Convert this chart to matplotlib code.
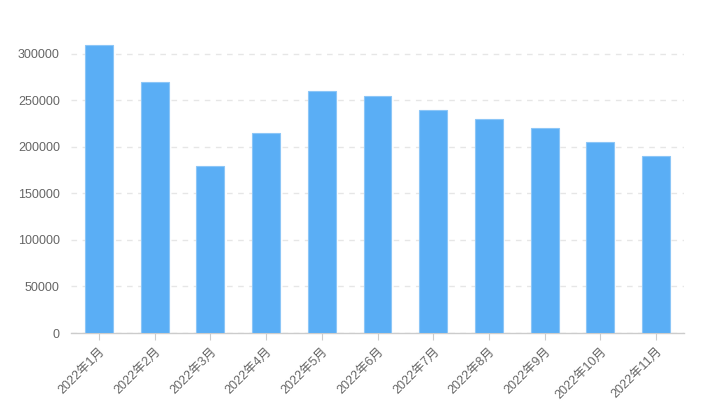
import numpy as np
import matplotlib.pyplot as plt

plt.rcParams['font.family'] = ['Liberation Sans', 'Noto Sans CJK SC', 'DejaVu Sans']

months = ["2022年1月", "2022年2月", "2022年3月", "2022年4月", "2022年5月", "2022年6月",
          "2022年7月", "2022年8月", "2022年9月", "2022年10月", "2022年11月"]
values = [310000, 270000, 180000, 215000, 260000, 255000,
          240000, 230000, 220000, 205000, 190000]
yticks = [0, 50000, 100000, 150000, 200000, 250000, 300000]

fig = plt.figure(figsize=(7.02, 4.15), dpi=100)
ax = fig.add_axes([71 / 702, 82 / 415, 613 / 702, 307 / 415])

x = np.arange(len(months))
ax.bar(x, values, width=0.5, color="#5aaef5", edgecolor="#8cc6f7", linewidth=0.8, zorder=3)

ax.set_xlim(-0.5, len(months) - 0.5)
ax.set_ylim(0, 330000)
ax.set_yticks(yticks)
ax.set_yticklabels([str(v) for v in yticks])
ax.set_xticks(x)
ax.set_xticklabels(months, rotation=45, ha="right", va="top", rotation_mode="anchor")

ax.yaxis.grid(True, color="#e6e6e6", linestyle=(0, (4, 4)), linewidth=1, zorder=0)
ax.xaxis.grid(False)

for s in ["top", "right", "left"]:
    ax.spines[s].set_visible(False)
ax.spines["bottom"].set_color("#cccccc")
ax.spines["bottom"].set_linewidth(1)

ax.tick_params(axis="y", length=0, pad=8, labelsize=9, labelcolor="#666666")
ax.tick_params(axis="x", length=5, color="#cccccc", pad=4, labelsize=9, labelcolor="#666666")

fig.savefig("out.png", dpi=100)
